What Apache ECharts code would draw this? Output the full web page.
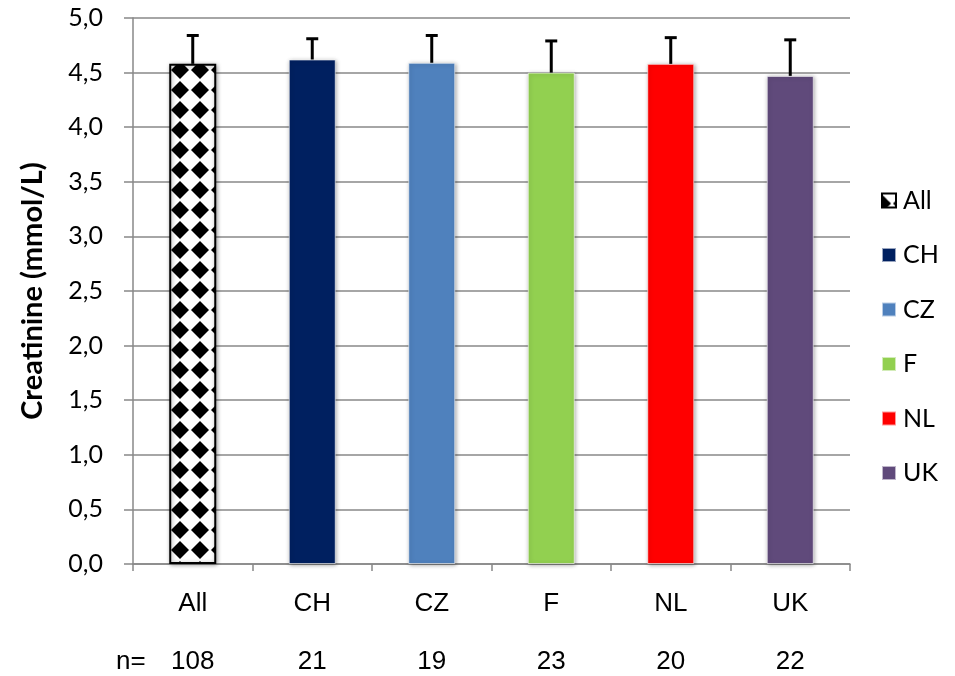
<!DOCTYPE html>
<html>
<head>
<meta charset="utf-8">
<script src="https://cdn.jsdelivr.net/npm/echarts@6/dist/echarts.min.js"></script>
<style>
  html, body { margin: 0; padding: 0; background: #fff; }
  #chart { width: 955px; height: 676px; }
</style>
</head>
<body>
<div id="chart"></div>
<script>
// Mean creatinine per group with upper standard deviation whisker
const groups = ['All', 'CH', 'CZ', 'F', 'NL', 'UK'];
const means = [4.58, 4.62, 4.59, 4.50, 4.58, 4.47];
const sds = [0.26, 0.19, 0.25, 0.29, 0.24, 0.33];
const nCounts = ['108', '21', '19', '23', '20', '22'];
const colors = ['pattern', '#002060', '#4f81bd', '#92d050', '#ff0000', '#604a7b'];
const yTicks = { min: 0, max: 5, step: 0.5 };

// Checkered diamond fill for the pooled group
function diamondPattern() {
  const c = document.createElement('canvas');
  c.width = 20; c.height = 20;
  const g = c.getContext('2d');
  g.fillStyle = '#fff';
  g.fillRect(0, 0, 20, 20);
  g.fillStyle = '#000';
  const diamond = (cx, cy) => {
    g.beginPath();
    g.moveTo(cx, cy - 9); g.lineTo(cx + 9, cy); g.lineTo(cx, cy + 9); g.lineTo(cx - 9, cy);
    g.closePath();
    g.fill();
  };
  diamond(0, 10);
  diamond(20, 10);
  return { image: c, repeat: 'repeat' };
}

const baseFont = 'Lato, "Open Sans", sans-serif';
const catFont = '"Liberation Sans Narrow", "Liberation Sans", sans-serif';

const barSeries = groups.map((name, i) => {
  const isAll = colors[i] === 'pattern';
  return {
    name: name,
    type: 'bar',
    stack: 'groups',
    barWidth: 47,
    data: groups.map((_, j) => (j === i ? means[i] : null)),
    itemStyle: {
      color: isAll ? diamondPattern() : colors[i],
      borderColor: isAll ? '#000' : 'rgba(255,255,255,0.6)',
      borderWidth: isAll ? 2 : 1,
      shadowColor: 'rgba(0,0,0,0.35)',
      shadowBlur: 4,
      shadowOffsetX: 1,
      shadowOffsetY: 1
    },
    emphasis: { disabled: true },
    z: 2
  };
});

const errorSeries = {
  type: 'custom',
  name: 'sd',
  data: groups.map((_, i) => [i, means[i], means[i] + sds[i]]),
  renderItem: function (params, api) {
    const base = api.coord([api.value(0), api.value(1)]);
    const top = api.coord([api.value(0), api.value(2)]);
    const half = 6;
    const style = { stroke: '#000', lineWidth: 3 };
    return {
      type: 'group',
      children: [
        { type: 'line', shape: { x1: base[0], y1: base[1], x2: top[0], y2: top[1] }, style: style },
        { type: 'line', shape: { x1: top[0] - half, y1: top[1], x2: top[0] + half, y2: top[1] }, style: style }
      ]
    };
  },
  z: 5,
  silent: true
};

const chart = echarts.init(document.getElementById('chart'), null, { renderer: 'canvas' });
chart.setOption({
  animation: false,
  backgroundColor: '#fff',
  grid: { left: 133, right: 105, top: 18, bottom: 112, containLabel: false },
  legend: {
    data: groups,
    orient: 'vertical',
    left: 876,
    top: 183,
    itemWidth: 14,
    itemHeight: 14,
    itemGap: 29.5,
    icon: 'rect',
    textStyle: { fontFamily: baseFont, fontSize: 25, lineHeight: 25, color: '#000', padding: [0, 0, 0, 2] },
    selectedMode: false
  },
  xAxis: [
    {
      type: 'category',
      data: groups,
      axisLine: { lineStyle: { color: '#888', width: 1.5 } },
      axisTick: { show: true, alignWithLabel: false, length: 7, lineStyle: { color: '#888', width: 1.5 } },
      axisLabel: { margin: 27, fontFamily: catFont, fontSize: 26, color: '#000' }
    },
    {
      type: 'category',
      position: 'bottom',
      data: nCounts,
      axisLine: { show: false },
      axisTick: { show: false },
      axisLabel: { margin: 85, fontFamily: catFont, fontSize: 26, color: '#000' }
    }
  ],
  yAxis: {
    type: 'value',
    min: yTicks.min,
    max: yTicks.max,
    interval: yTicks.step,
    name: 'Creatinine (mmol/L)',
    nameLocation: 'middle',
    nameGap: 86,
    nameTextStyle: { fontFamily: baseFont, fontSize: 29, fontWeight: 'bold', color: '#000' },
    axisLine: { show: true, lineStyle: { color: '#888', width: 1.5 } },
    axisTick: { show: true, length: 9, lineStyle: { color: '#888', width: 1.5 } },
    axisLabel: {
      margin: 30,
      fontFamily: baseFont,
      fontSize: 25,
      color: '#000',
      formatter: v => v.toFixed(1).replace('.', ',')
    },
    splitLine: { show: true, lineStyle: { color: '#888', width: 1.5 } }
  },
  graphic: [
    {
      type: 'text',
      left: 116,
      top: 649,
      style: { text: 'n=', fontFamily: catFont, fontSize: 26, fill: '#000' }
    }
  ],
  series: barSeries.concat([errorSeries])
});
</script>
</body>
</html>
